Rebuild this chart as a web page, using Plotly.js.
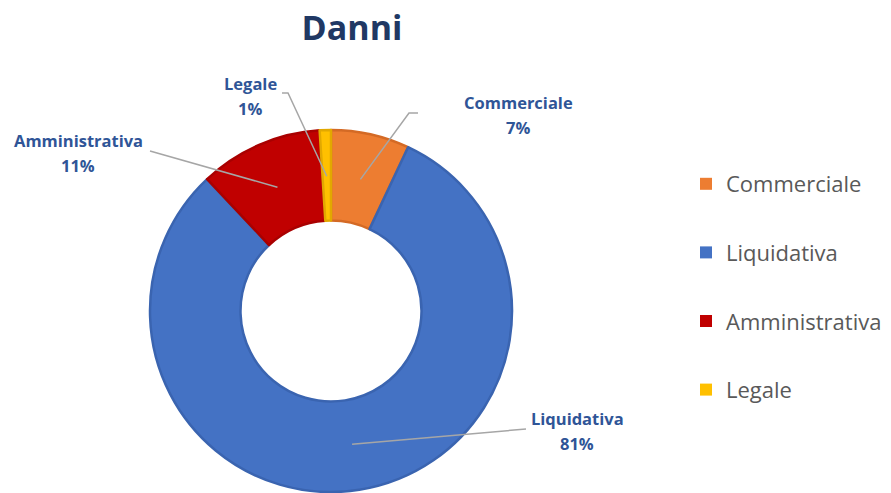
<!DOCTYPE html>
<html>
<head>
<meta charset="utf-8">
<script src="https://cdn.plot.ly/plotly-3.0.1.min.js"></script>
<style>html,body{margin:0;padding:0;background:#fff;}#chart{width:891px;height:493px;}</style>
</head>
<body>
<div id="chart"></div>
<script>
// ---- data ----
const categories = ['Commerciale', 'Liquidativa', 'Amministrativa', 'Legale'];
const values = [7, 81, 11, 1];
const chartTitle = 'Danni';

// ---- styling ----
const colors = ['#ED7D31', '#4472C4', '#C00000', '#FFC000'];
const edgeColors = ['#D46A25', '#3A64B0', '#A90000', '#E2A800'];
const W = 891, H = 493;
const pieCenterPx = [331, 311], pieRadiusPx = 181;
// label block centres (px) and leader-line outer anchor points (px)
const labelPosPx = [[518, 115], [577, 431], [78, 153], [250, 96]];
const labelLineGap = 25;
const leaderOuterPx = [
  [[418, 113], [409, 113]],
  [[526, 429]],
  [[150, 151]],
  [[282, 93], [288, 93]]
];

const px2x = p => p / W;
const px2y = p => 1 - p / H;

const total = values.reduce((a, b) => a + b, 0);
const domX = [px2x(pieCenterPx[0] - pieRadiusPx), px2x(pieCenterPx[0] + pieRadiusPx)];
const domY = [px2y(pieCenterPx[1] + pieRadiusPx), px2y(pieCenterPx[1] - pieRadiusPx)];

const traces = [{
  type: 'pie',
  labels: categories,
  values: values,
  hole: 0.5,
  sort: false,
  direction: 'clockwise',
  rotation: 0,
  textinfo: 'none',
  hoverinfo: 'label+percent',
  showlegend: false,
  marker: { colors: colors, line: { color: edgeColors, width: 2.5 } },
  domain: { x: domX, y: domY }
}];

// legend entries
categories.forEach((c, i) => {
  traces.push({
    type: 'bar', x: [null], y: [null], name: c, legendgroup: c,
    marker: { color: colors[i], line: { width: 0 } },
    showlegend: true, hoverinfo: 'skip'
  });
});

// leader lines + labels
const shapes = [], annotations = [];
const labelFont = { family: 'Open Sans', size: 16.5, color: '#2F5597', weight: 700 };
let cum = 0;
values.forEach((v, i) => {
  const mid = (cum + v / 2) / total * 2 * Math.PI;
  cum += v;
  const r = pieRadiusPx * 0.745;
  const tip = [pieCenterPx[0] + r * Math.sin(mid), pieCenterPx[1] - r * Math.cos(mid)];
  const pts = leaderOuterPx[i].concat([tip]);
  const path = pts.map((p, k) => (k ? 'L' : 'M') + px2x(p[0]) + ',' + px2y(p[1])).join(' ');
  shapes.push({ type: 'path', xref: 'paper', yref: 'paper', path: path,
    line: { color: '#A6A6A6', width: 1.5 } });
  const lx = px2x(labelPosPx[i][0]);
  annotations.push({
    xref: 'paper', yref: 'paper', x: lx, y: px2y(labelPosPx[i][1] - labelLineGap / 2),
    xanchor: 'center', yanchor: 'middle', showarrow: false,
    text: categories[i], font: labelFont
  });
  annotations.push({
    xref: 'paper', yref: 'paper', x: lx, y: px2y(labelPosPx[i][1] + labelLineGap / 2),
    xanchor: 'center', yanchor: 'middle', showarrow: false,
    text: Math.round(v / total * 100) + '%', font: labelFont
  });
});

const layout = {
  width: W, height: H,
  margin: { l: 0, r: 0, t: 0, b: 0 },
  paper_bgcolor: '#ffffff', plot_bgcolor: '#ffffff',
  title: {
    text: chartTitle, x: px2x(352), xanchor: 'center', xref: 'container',
    y: 1 - 28 / H, yanchor: 'middle', yref: 'container',
    font: { family: 'Open Sans', size: 34, color: '#203864', weight: 700 }
  },
  xaxis: { visible: false }, yaxis: { visible: false },
  showlegend: true,
  legend: {
    x: px2x(686), xanchor: 'left', y: px2y(163), yanchor: 'top',
    traceorder: 'grouped', tracegroupgap: 37,
    font: { family: 'Open Sans', size: 22, color: '#595959' },
    bgcolor: 'rgba(0,0,0,0)'
  },
  shapes: shapes,
  annotations: annotations
};

Plotly.newPlot('chart', traces, layout, { displayModeBar: false, responsive: false });
</script>
</body>
</html>
